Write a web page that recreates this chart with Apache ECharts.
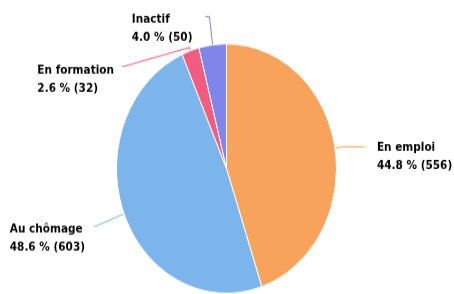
<!DOCTYPE html>
<html>
<head>
<meta charset="utf-8">
<script src="https://cdn.jsdelivr.net/npm/echarts@6/dist/echarts.min.js"></script>
<style>
  html, body { margin: 0; padding: 0; background: #fff; }
  body { width: 454px; height: 294px; }
  /* reference is stretched vertically, so the chart is drawn flat and scaled */
  #chart { width: 454px; height: 260px; transform: scaleY(1.134); transform-origin: 0 0; }
</style>
</head>
<body>
<div id="chart"></div>
<script>
const categories = ['En emploi', 'Au chômage', 'En formation', 'Inactif'];
const counts = [556, 603, 32, 50];
const colors = ['#f7a35c', '#7cb5ec', '#f15c80', '#8085e9'];

// label line / label placement per slice
const lineLen = [8, 30, 3, 25];
const lineLen2 = [21, 2, 67, 4];
const labelGap = [13, 9, 8.5, 13];
const labelShift = [9, 10.5, 28, 11];
const lineDrop = [0, 0, 17, 0];

const total = counts.reduce((a, b) => a + b, 0);

const chart = echarts.init(document.getElementById('chart'));
chart.setOption({
  animation: false,
  series: [{
    type: 'pie',
    center: [226.5, 148.6],
    radius: 110,
    startAngle: 90,
    clockwise: true,
    avoidLabelOverlap: false,
    itemStyle: { borderColor: '#fff', borderWidth: 1 },
    label: {
      fontFamily: 'DejaVu Sans',
      fontSize: 10.5,
      fontWeight: 'bold',
      color: '#000',
      lineHeight: 16,
      formatter: p => p.name + '\n' + (p.value / total * 100).toFixed(1) + ' % (' + p.value + ')'
    },
    labelLine: { lineStyle: { width: 1 } },
    labelLayout: p => {
      const pts = p.labelLinePoints;
      const i = p.dataIndex;
      const out = { dy: labelShift[i] };
      // lines inside each label are left aligned, even on the left side
      if (p.align === 'right') {
        out.align = 'left';
        out.dx = -p.labelRect.width;
      }
      if (pts) out.labelLinePoints = [pts[0], pts[1], [pts[2][0], pts[2][1] + lineDrop[i]]];
      return out;
    },
    data: categories.map((name, i) => ({
      name,
      value: counts[i],
      itemStyle: { color: colors[i] },
      label: { distanceToLabelLine: labelGap[i] },
      labelLine: { length: lineLen[i], length2: lineLen2[i] }
    }))
  }]
});
</script>
</body>
</html>
